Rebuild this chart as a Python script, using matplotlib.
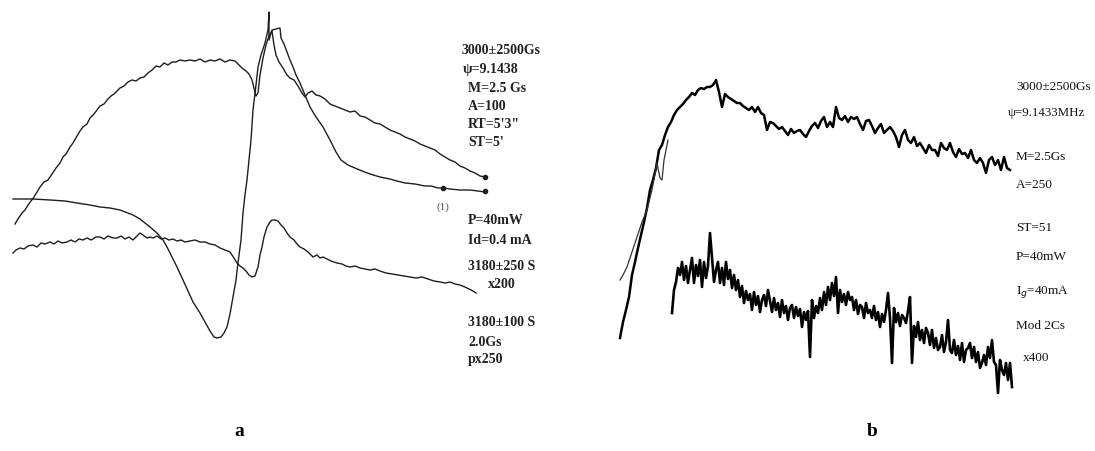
import matplotlib
matplotlib.use('Agg')
import matplotlib.pyplot as plt
import numpy as np

# --- panel a: three EPR traces (field position, signal) ---
a1_field = [15, 18, 22, 25, 28, 31, 34, 37, 40, 44, 48, 52, 56, 60, 63, 66, 70, 73, 77, 80,
            83, 87, 90, 94, 97, 100, 104, 108, 111, 114, 117, 120, 124, 128, 132, 136, 140, 144, 148, 152,
            156, 160, 164, 168, 172, 176, 180, 185, 190, 195, 200, 205, 210, 215, 220, 225, 230, 235, 238, 242,
            246, 249, 252, 254, 256, 258, 260, 263, 266, 269, 272, 274, 276, 279, 283, 287, 290, 294, 298, 302,
            305, 308, 312, 316, 320, 325, 330, 335, 340, 345, 350, 355, 360, 365, 370, 375, 380, 385, 390, 395,
            400, 405, 410, 415, 420, 425, 430, 435, 440, 445, 450, 455, 460, 465, 470, 475, 480, 485]
a1_signal = [224, 219, 213, 210, 205, 201, 197, 192, 187, 182, 180, 174, 168, 163, 157, 154, 147, 143, 136, 131,
             127, 124, 118, 114, 110, 106, 104, 99, 96, 94, 91, 88, 86, 82, 80, 81, 78, 77, 73, 70,
             66, 67, 63, 65, 62, 62, 60, 61, 60, 61, 59, 62, 60, 61, 59, 62, 60, 61, 64, 68,
             71, 74, 80, 88, 96, 93, 75, 58, 45, 36, 31, 45, 55, 62, 68, 75, 78, 80, 86, 93,
             97, 93, 91, 95, 96, 99, 104, 106, 108, 110, 112, 111, 116, 117, 120, 123, 124, 127, 130, 132,
             134, 137, 139, 141, 144, 146, 148, 150, 154, 157, 160, 162, 166, 168, 171, 173, 176, 177]

a2_field = [13, 20, 33, 50, 65, 77, 90, 100, 110, 120, 133, 140, 150, 157, 163, 167, 172, 177, 183, 188,
            193, 200, 205, 210, 214, 217, 221, 224, 227, 230, 233, 236, 238, 241, 243, 245, 247, 249, 251, 253,
            256, 258, 261, 265, 268, 269, 269, 272, 276, 280, 281, 284, 287, 290, 293, 296, 300, 305, 310, 316,
            323, 330, 336, 341, 348, 355, 362, 370, 380, 390, 397, 405, 415, 425, 431, 438, 443, 450, 460, 470,
            478, 485]
a2_signal = [199, 199, 199, 200, 201, 203, 205, 207, 208, 210, 215, 219, 227, 233, 240, 247, 257, 267, 280, 291,
             302, 313, 322, 331, 337, 338, 337, 333, 327, 314, 297, 280, 263, 240, 213, 195, 180, 160, 140, 110,
             85, 67, 55, 43, 30, 12, 40, 30, 29, 28, 38, 44, 52, 60, 67, 75, 83, 95, 107, 117,
             127, 140, 152, 160, 165, 168, 171, 174, 177, 179, 181, 183, 184, 186, 186, 188, 188, 189, 190, 190,
             191, 192]

a3_field = [13, 16, 20, 24, 28, 33, 37, 41, 45, 50, 54, 58, 62, 67, 71, 75, 79, 83, 87, 91,
            96, 100, 104, 108, 113, 117, 121, 125, 129, 133, 137, 140, 143, 147, 150, 153, 157, 161, 165, 169,
            173, 177, 181, 185, 190, 195, 200, 205, 210, 215, 220, 225, 230, 234, 237, 240, 243, 246, 249, 252,
            255, 258, 260, 262, 264, 267, 270, 272, 275, 278, 281, 284, 287, 290, 294, 297, 300, 304, 308, 313,
            317, 320, 323, 327, 331, 337, 342, 346, 350, 355, 360, 365, 370, 375, 380, 386, 392, 398, 404, 410,
            416, 422, 428, 434, 440, 445, 450, 455, 460, 465, 469, 473, 476]
a3_signal = [253, 250, 248, 249, 246, 245, 247, 243, 244, 242, 244, 241, 243, 242, 240, 242, 239, 240, 238, 240,
             237, 237, 239, 236, 238, 238, 236, 239, 237, 240, 236, 233, 235, 238, 237, 238, 236, 239, 238, 240,
             239, 241, 240, 242, 241, 240, 242, 242, 244, 245, 248, 250, 252, 258, 263, 266, 268, 271, 275, 277,
             276, 267, 255, 247, 237, 227, 222, 220, 220, 221, 225, 228, 233, 237, 240, 244, 247, 249, 252, 257,
             255, 258, 257, 259, 261, 263, 264, 266, 267, 266, 268, 269, 270, 269, 271, 273, 274, 275, 276, 277,
             278, 277, 279, 281, 282, 283, 282, 284, 285, 287, 289, 291, 293]

a_dots_field = [485, 443, 485]
a_dots_signal = [177, 188, 191]

a_text_top = ['3000±2500Gs', 'ψ=9.1438', 'M=2.5 Gs', 'A=100', 'RT=5\'3"', 'ST=5\'']
a_text_mid = ['P=40mW', 'Id=0.4 mA', '3180±250 S']
a_text_low = ['3180±100 S', '2.0Gs', 'px250']

# --- panel b: two noisy traces ---
b1_field = np.linspace(620, 1010, 131)
b1_signal = [338, 322, 310, 297, 275, 262, 248, 235, 222, 208,
             190, 180, 168, 150, 145, 135, 127, 122, 115, 110,
             107, 104, 100, 97, 93, 95, 90, 88, 89, 87,
             87, 85, 80, 92, 107, 94, 97, 99, 101, 103,
             103, 106, 108, 110, 107, 112, 107, 113, 115, 130,
             122, 123, 126, 129, 127, 131, 135, 129, 133, 131,
             130, 134, 137, 131, 126, 123, 128, 121, 117, 127,
             122, 127, 107, 118, 120, 116, 122, 117, 119, 117,
             124, 130, 121, 120, 126, 133, 128, 124, 133, 130,
             127, 131, 137, 147, 135, 130, 140, 143, 137, 146,
             143, 148, 153, 145, 150, 150, 156, 143, 148, 150,
             143, 152, 157, 149, 154, 153, 158, 150, 160, 163,
             158, 163, 173, 160, 157, 165, 160, 170, 157, 168,
             170]
b1b_field = [620, 623, 627, 632, 637, 642, 647, 652, 657, 660, 662, 664, 668]
b1b_signal = [280, 275, 267, 252, 237, 222, 210, 190, 163, 178, 180, 160, 140]

b2_field = np.linspace(672, 1012, 171)
b2_signal = [313, 290, 282, 268, 275, 262, 280, 266, 283, 270,
             258, 283, 265, 276, 260, 287, 262, 278, 266, 233,
             257, 282, 270, 262, 283, 268, 285, 262, 279, 270,
             288, 275, 290, 280, 297, 286, 303, 291, 300, 294,
             310, 292, 305, 296, 312, 300, 295, 306, 290, 301,
             312, 298, 310, 303, 317, 300, 313, 306, 320, 308,
             305, 318, 307, 316, 309, 327, 312, 320, 311, 357,
             300, 318, 306, 313, 298, 310, 292, 305, 287, 300,
             283, 296, 277, 313, 290, 302, 294, 305, 292, 300,
             297, 310, 300, 314, 305, 307, 318, 303, 313, 310,
             318, 306, 320, 312, 327, 314, 322, 310, 293, 318,
             363, 308, 322, 313, 326, 315, 318, 323, 311, 297,
             363, 326, 337, 322, 340, 330, 343, 328, 333, 345,
             330, 348, 338, 350, 347, 335, 352, 342, 320, 350,
             353, 340, 355, 346, 360, 343, 362, 350, 348, 343,
             358, 347, 362, 352, 368, 363, 355, 365, 347, 358,
             340, 362, 365, 393, 360, 370, 375, 363, 380, 363,
             387]

b_text = ['3000±2500Gs', 'ψ=9.1433MHz', 'M=2.5Gs', 'A=250', 'ST=51', 'P=40mW',
          'I$_g$=40mA', 'Mod 2Cs', 'x400']

# --- figure ---
fig = plt.figure(figsize=(10.95, 4.51), dpi=100)
ax = fig.add_axes([0, 0, 1, 1])
ax.set_xlim(0, 1095)
ax.set_ylim(451, 0)
ax.axis('off')

ink = '#1e1e1e'
ax.plot(a1_field, a1_signal, c=ink, lw=1.0)
ax.plot(a2_field, a2_signal, c=ink, lw=1.0)
ax.plot(a3_field, a3_signal, c=ink, lw=1.0)
ax.plot(a_dots_field, a_dots_signal, 'o', c=ink, ms=3)

ax.plot(b1_field, b1_signal, c='black', lw=1.8)
ax.plot(b1b_field, b1b_signal, c='#333333', lw=0.9)
ax.plot(b2_field, b2_signal, c='black', lw=1.9)

serif = 'Liberation Serif'
tkw = dict(family=serif, fontsize=10, fontweight='bold', color='#222222', va='center')
ys_top = [50, 69, 88, 106, 124, 142]
xs_top = [462, 463, 468, 468, 468, 468]
for s, x, y in zip(a_text_top, xs_top, ys_top):
    ax.text(x, y, s, **tkw)
for s, y in zip(a_text_mid, [221, 240, 266]):
    ax.text(468, y, s, **tkw)
ax.text(488, 285, 'x200', **tkw)
for s, y in zip(a_text_low, [323, 342, 360]):
    ax.text(468, y, s, **tkw)
ax.text(443, 207, '(1)', family=serif, fontsize=8, color='#555555', ha='center', va='center')

bkw = dict(family=serif, color='#111111', va='center')
ys_b = [87, 113, 157, 185, 228, 257, 292, 326, 358]
xs_b = [1016, 1008, 1016, 1016, 1016, 1016, 1016, 1016, 1023]
sizes_b = [9.5, 9.3, 9.5, 9.5, 9.5, 9.5, 9.5, 9.5, 9.5]
for s, x, y, fs in zip(b_text, xs_b, ys_b, sizes_b):
    ax.text(x, y, s, fontsize=fs, **bkw)

ax.text(239, 432, 'a', family=serif, fontsize=14, fontweight='bold', ha='center', va='center')
ax.text(872, 432, 'b', family=serif, fontsize=14, fontweight='bold', ha='center', va='center')

fig.savefig('out.png', dpi=100)
